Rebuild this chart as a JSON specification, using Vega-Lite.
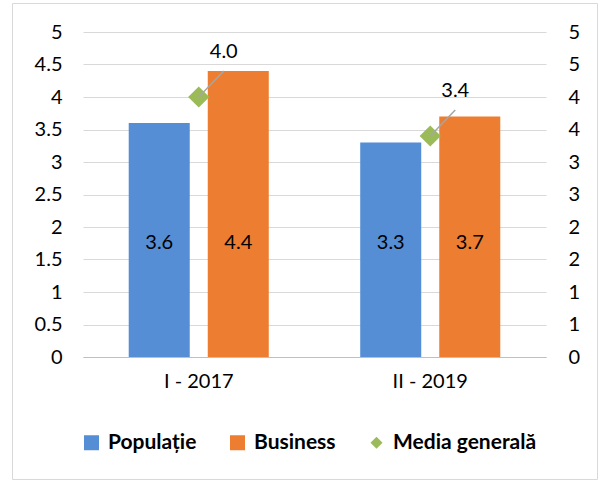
{
  "$schema": "https://vega.github.io/schema/vega-lite/v6.json",
  "width": 463,
  "height": 325,
  "autosize": {"type": "none"},
  "padding": {"left": 83, "top": 32, "right": 57, "bottom": 124},
  "background": "white",
  "config": {"view": {"stroke": null}, "font": "Lato"},
  "data": {
    "values": [
      {"group": "I - 2017", "series": "Populație", "value": 3.6},
      {"group": "I - 2017", "series": "Business", "value": 4.4},
      {"group": "II - 2019", "series": "Populație", "value": 3.3},
      {"group": "II - 2019", "series": "Business", "value": 3.7},
      {"group": "I - 2017", "series": "Media generală", "value": 4.0},
      {"group": "II - 2019", "series": "Media generală", "value": 3.4}
    ]
  },
  "layer": [
    {
      "encoding": {
        "x": {
          "field": "group",
          "type": "nominal",
          "sort": null,
          "scale": {"paddingInner": 0.395, "paddingOuter": 0.1975},
          "axis": {
            "title": null,
            "labelAngle": 0,
            "ticks": false,
            "grid": false,
            "domainColor": "#bfbfbf",
            "domainWidth": 1,
            "labelPadding": 14,
            "labelFontSize": 20,
            "labelColor": "#000000"
          }
        }
      },
      "layer": [
        {
          "transform": [{"filter": "datum.series !== 'Media generală'"}],
          "mark": {"type": "bar"},
          "encoding": {
            "xOffset": {
              "field": "series",
              "type": "nominal",
              "sort": ["Populație", "Business"],
              "scale": {"paddingInner": 0.228, "paddingOuter": 0}
            },
            "y": {
              "field": "value",
              "type": "quantitative",
              "scale": {"domain": [0, 5], "nice": false},
              "axis": {
                "title": null,
                "orient": "left",
                "values": [0, 0.5, 1, 1.5, 2, 2.5, 3, 3.5, 4, 4.5, 5],
                "format": "~g",
                "ticks": false,
                "domain": false,
                "labelPadding": 21,
                "labelFontSize": 20,
                "labelColor": "#000000",
                "gridColor": "#d9d9d9",
                "gridWidth": 1
              }
            },
            "color": {
              "field": "series",
              "type": "nominal",
              "scale": {
                "domain": ["Populație", "Business", "Media generală"],
                "range": ["#558ED5", "#ED7D31", "#9BBB59"]
              },
              "legend": {
                "title": null,
                "orient": "none",
                "legendX": -2,
                "legendY": 400,
                "direction": "horizontal",
                "columns": 3,
                "padding": 0,
                "columnPadding": 30,
                "labelOffset": 6,
                "labelFont": "Lato",
                "labelFontWeight": "bold",
                "labelFontSize": 21,
                "labelColor": "#000000",
                "symbolType": "square",
                "symbolStrokeWidth": 0,
                "encode": {
                  "symbols": {
                    "update": {
                      "shape": {"signal": "datum.value === 'Media generală' ? 'diamond' : 'square'"},
                      "size": {"signal": "datum.value === 'Media generală' ? 144 : 225"},
                      "opacity": {"value": 1}
                    }
                  }
                }
              }
            }
          }
        },
        {
          "transform": [{"filter": "datum.series !== 'Media generală'"}],
          "mark": {"type": "text", "fontSize": 20, "color": "#000000", "baseline": "middle"},
          "encoding": {
            "xOffset": {
              "field": "series",
              "type": "nominal",
              "sort": ["Populație", "Business"],
              "scale": {"paddingInner": 0.228, "paddingOuter": 0}
            },
            "y": {
              "datum": 1.75,
              "type": "quantitative",
              "scale": {"domain": [0, 5], "nice": false},
              "axis": null
            },
            "text": {"field": "value", "type": "quantitative", "format": ".1f"}
          }
        },
        {
          "transform": [{"filter": "datum.series === 'Media generală'"}],
          "mark": {"type": "point", "shape": "diamond", "filled": true, "size": 450, "opacity": 1},
          "encoding": {
            "y": {
              "field": "value",
              "type": "quantitative",
              "scale": {"domain": [0, 5], "nice": false},
              "axis": {
                "title": null,
                "orient": "right",
                "values": [0, 0.5, 1, 1.5, 2, 2.5, 3, 3.5, 4, 4.5, 5],
                "format": ".0f",
                "ticks": false,
                "domain": false,
                "grid": false,
                "labelPadding": 22,
                "labelFontSize": 20,
                "labelColor": "#000000"
              }
            },
            "color": {"field": "series", "type": "nominal"}
          }
        },
        {
          "transform": [{"filter": "datum.series === 'Media generală'"}],
          "mark": {
            "type": "point",
            "shape": "M0,0L1,-1.04",
            "size": 2500,
            "filled": false,
            "stroke": "#a6a6a6",
            "strokeWidth": 1.5,
            "opacity": 1
          },
          "encoding": {
            "y": {
              "field": "value",
              "type": "quantitative",
              "scale": {"domain": [0, 5], "nice": false},
              "axis": null
            }
          }
        },
        {
          "transform": [{"filter": "datum.series === 'Media generală'"}],
          "mark": {"type": "text", "fontSize": 20, "color": "#000000", "dx": 25, "dy": -45, "baseline": "middle"},
          "encoding": {
            "y": {
              "field": "value",
              "type": "quantitative",
              "scale": {"domain": [0, 5], "nice": false},
              "axis": null
            },
            "text": {"field": "value", "type": "quantitative", "format": ".1f"}
          }
        }
      ],
      "resolve": {"scale": {"y": "independent"}}
    },
    {
      "mark": {"type": "point", "opacity": 0},
      "encoding": {
        "x": {
          "datum": 0.5,
          "type": "quantitative",
          "scale": {"domain": [0, 1], "range": [-71, 514], "nice": false, "zero": false},
          "axis": {"orient": "top", "offset": 29, "title": null, "labels": false, "ticks": false, "grid": false, "domainColor": "#d9d9d9", "domainWidth": 1}
        },
        "y": {
          "datum": 0.5,
          "type": "quantitative",
          "scale": {"domain": [0, 1], "range": [447, -29], "nice": false, "zero": false},
          "axis": {"orient": "left", "offset": 71, "title": null, "labels": false, "ticks": false, "grid": false, "domainColor": "#d9d9d9", "domainWidth": 1}
        }
      }
    },
    {
      "mark": {"type": "point", "opacity": 0},
      "encoding": {
        "x": {
          "datum": 0.5,
          "type": "quantitative",
          "scale": {"domain": [0, 1], "range": [-71, 514], "nice": false, "zero": false},
          "axis": {"orient": "bottom", "offset": 122, "title": null, "labels": false, "ticks": false, "grid": false, "domainColor": "#d9d9d9", "domainWidth": 1}
        },
        "y": {
          "datum": 0.5,
          "type": "quantitative",
          "scale": {"domain": [0, 1], "range": [447, -29], "nice": false, "zero": false},
          "axis": {"orient": "right", "offset": 51, "title": null, "labels": false, "ticks": false, "grid": false, "domainColor": "#d9d9d9", "domainWidth": 1}
        }
      }
    }
  ],
  "resolve": {"scale": {"x": "independent", "y": "independent"}}
}
